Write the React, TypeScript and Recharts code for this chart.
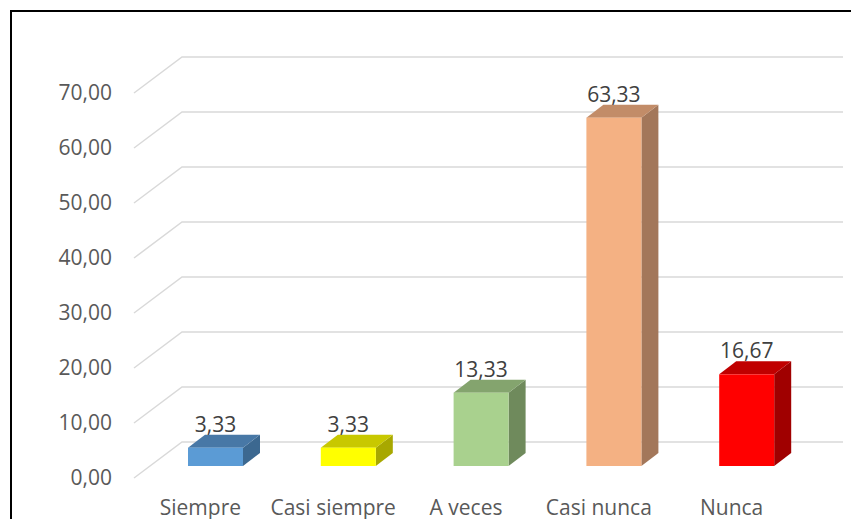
import React from 'react';
import { BarChart, Bar, XAxis, YAxis, CartesianGrid } from 'recharts';

const categories = ['Siempre', 'Casi siempre', 'A veces', 'Casi nunca', 'Nunca'];
const percentages = [3.33, 3.33, 13.33, 63.33, 16.67];
const yTicks = [0, 10, 20, 30, 40, 50, 60, 70];

// front / top / side shades of each column
const frontColors = ['#5B9BD5', '#FFFF00', '#A9D18E', '#F4B183', '#FF0000'];
const topColors = ['#4878A6', '#C8C800', '#84A46E', '#C28C68', '#C00000'];
const sideColors = ['#3C6890', '#A8A800', '#6F8A5C', '#A3775A', '#A00000'];

const data = categories.map((name, i) => ({ name, value: percentages[i] }));

const FONT = '"Open Sans", sans-serif';
const DEPTH_X = 48; // floor depth, front to back wall
const DEPTH_Y = 36;
const OFF_X = 15; // columns sit a bit into the depth
const OFF_Y = 12;
const BAR_DX = 17; // column thickness
const BAR_DY = 13;

const fmt = (v: number) => v.toFixed(2).replace('.', ',');

const GridLine = (props: any) => {
  const { x1, y1, x2 } = props;
  const d = `M${x1},${y1} L${x1 + DEPTH_X},${y1 - DEPTH_Y} L${x2 + 45},${y1 - DEPTH_Y}`;
  return <path d={d} fill="none" stroke="#D9D9D9" strokeWidth={1.5} />;
};

const Column3D = (props: any) => {
  const { x, y, width, height, index } = props;
  if (width == null || height == null) return null;
  const x0 = x + OFF_X;
  const y0 = y - OFF_Y;
  const x1 = x0 + width;
  const y1 = y0 + height;
  const top = `${x0},${y0} ${x0 + BAR_DX},${y0 - BAR_DY} ${x1 + BAR_DX},${y0 - BAR_DY} ${x1},${y0}`;
  const side = `${x1},${y0} ${x1 + BAR_DX},${y0 - BAR_DY} ${x1 + BAR_DX},${y1 - BAR_DY} ${x1},${y1}`;
  return (
    <g>
      <polygon points={side} fill={sideColors[index]} />
      <polygon points={top} fill={topColors[index]} />
      <rect x={x0} y={y0} width={width} height={height} fill={frontColors[index]} />
    </g>
  );
};

const renderLabel = (props: any) => {
  const { x, y, width, value } = props;
  return (
    <text
      x={x + width / 2 + OFF_X}
      y={y - OFF_Y - 16}
      textAnchor="middle"
      fill="#404040"
      fontSize={21}
      fontFamily={FONT}
    >
      {fmt(Number(value))}
    </text>
  );
};

const App: React.FC = () => {
  return (
    <div style={{ position: 'absolute', left: 0, top: 0, width: 851, height: 519, overflow: 'hidden', background: '#fff' }}>
      <div
        style={{
          position: 'absolute',
          left: 10,
          top: 10,
          width: 900,
          height: 600,
          borderLeft: '2px solid #000',
          borderTop: '2px solid #000',
        }}
      />
      <div style={{ position: 'absolute', left: 0, top: 0 }}>
        <BarChart width={851} height={519} data={data} margin={{ top: 93, right: 53, bottom: 11, left: 0 }}>
          <CartesianGrid vertical={false} horizontal={GridLine} />
          <XAxis
            dataKey="name"
            axisLine={false}
            tickLine={false}
            tickMargin={16}
            height={30}
            interval={0}
            tick={{ fill: '#595959', fontSize: 21, fontFamily: FONT }}
          />
          <YAxis
            domain={[0, 70]}
            ticks={yTicks}
            width={134}
            axisLine={false}
            tickLine={false}
            tickMargin={16}
            tickFormatter={fmt}
            tick={{ fill: '#595959', fontSize: 21, fontFamily: FONT }}
          />
          <Bar dataKey="value" barSize={55} shape={Column3D} label={renderLabel} isAnimationActive={false} />
        </BarChart>
      </div>
    </div>
  );
};

export default App;
